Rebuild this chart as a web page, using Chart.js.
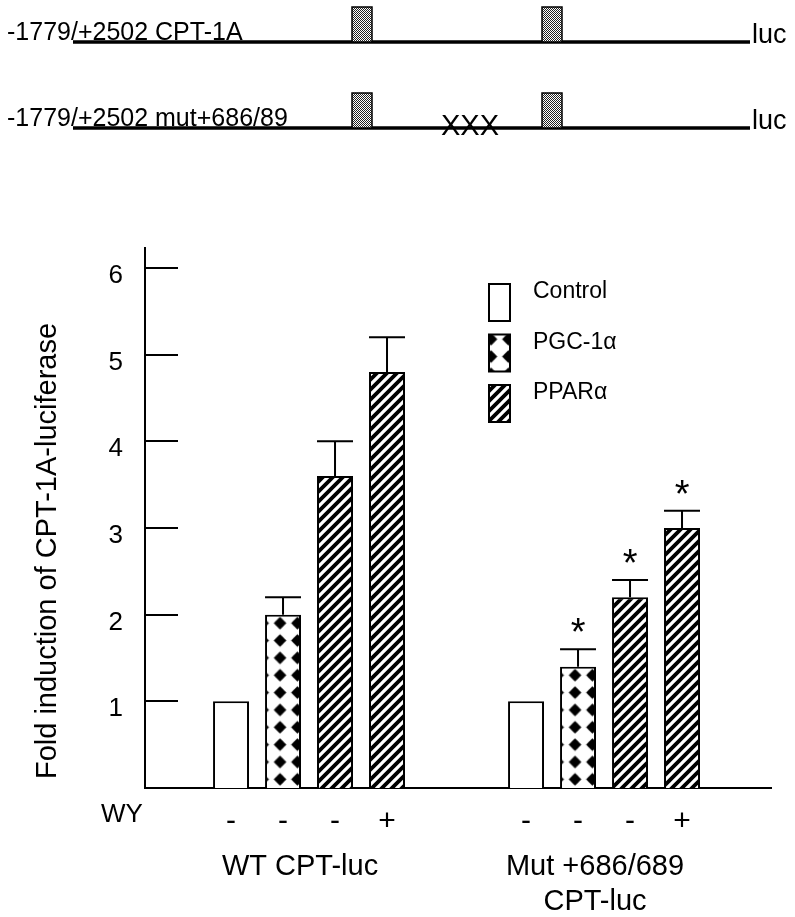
<!DOCTYPE html>
<html>
<head>
<meta charset="utf-8">
<script src="https://cdn.jsdelivr.net/npm/chart.js@4.4.1/dist/chart.umd.min.js"></script>
<style>
  html, body { margin: 0; padding: 0; background: #fff; }
  #wrap { position: relative; width: 795px; height: 917px; }
  canvas { position: absolute; left: 0; top: 0; }
</style>
</head>
<body>
<div id="wrap">
  <canvas id="chart" width="795" height="917"></canvas>
  <canvas id="construct" width="795" height="150"></canvas>
</div>
<script>
// groups on the x axis (multi-line labels)
const groups = [["WT CPT-luc"], ["Mut +686/689", "CPT-luc"]];
const seriesNames = ["Control", "PGC-1α", "PPARα", "PPARα + WY"];

// fold induction per group (WT, Mut)
const control = [1.0, 1.0];
const pgc = [2.0, 1.4];
const ppar = [3.6, 2.2];
const pparWy = [4.8, 3.0];

// upper error bars
const controlErr = [0, 0];
const pgcErr = [0.2, 0.2];
const pparErr = [0.4, 0.2];
const pparWyErr = [0.4, 0.2];

// significance stars
const controlSig = [false, false];
const pgcSig = [false, true];
const pparSig = [false, true];
const pparWySig = [false, true];

// WY treatment per series
const wySign = ["-", "-", "-", "+"];
const yTicks = [1, 2, 3, 4, 5, 6];
const yTitle = "Fold induction of CPT-1A-luciferase";

const FONT = '"Liberation Sans", Arial, Helvetica, sans-serif';
const ctx = document.getElementById("chart").getContext("2d");

function makePattern(w, h, draw) {
  const c = document.createElement("canvas");
  c.width = w;
  c.height = h;
  const g = c.getContext("2d");
  g.fillStyle = "#fff";
  g.fillRect(0, 0, w, h);
  draw(g);
  return ctx.createPattern(c, "repeat");
}

const TILE = 17;
const diamonds = makePattern(TILE, TILE, (g) => {
  g.fillStyle = "#000";
  g.beginPath();
  g.moveTo(8.5, 2.3);
  g.lineTo(14.7, 8.5);
  g.lineTo(8.5, 14.7);
  g.lineTo(2.3, 8.5);
  g.closePath();
  g.fill();
});

const hatch = makePattern(10, 10, (g) => {
  g.strokeStyle = "#000";
  g.lineWidth = 3.8;
  g.beginPath();
  g.moveTo(-1, 11); g.lineTo(11, -1);
  g.moveTo(-2, 2); g.lineTo(2, -2);
  g.moveTo(8, 12); g.lineTo(12, 8);
  g.stroke();
});

const values = [control, pgc, ppar, pparWy];
const errors = [controlErr, pgcErr, pparErr, pparWyErr];
const sigs = [controlSig, pgcSig, pparSig, pparWySig];
const fills = ["#fff", diamonds, hatch, hatch];

// diamond lattice lined up with the centres of the PGC-1α bars
function alignDiamonds(chart, x0, y0) {
  const bars = chart.getDatasetMeta(1).data;
  const gap = bars[1].x - bars[0].x;
  const s = gap / Math.round(gap / TILE) / TILE;
  diamonds.setTransform(new DOMMatrix().translate(x0 - 8.5 * s, y0).scale(s));
}

const extras = {
  id: "extras",
  beforeDatasetsDraw(chart) {
    const bars = chart.getDatasetMeta(1).data;
    alignDiamonds(chart, bars[0].x - 3, chart.chartArea.bottom);
  },
  afterDraw(chart) {
    const c = chart.ctx;
    const area = chart.chartArea;
    const y = chart.scales.y;
    const x = chart.scales.x;
    c.save();
    c.strokeStyle = "#000";
    c.fillStyle = "#000";
    c.lineWidth = 2;

    // tick marks pointing into the plot
    yTicks.forEach((v) => {
      const py = Math.round(y.getPixelForValue(v));
      c.beginPath();
      c.moveTo(area.left, py);
      c.lineTo(area.left + 33, py);
      c.stroke();
    });

    chart.data.datasets.forEach((ds, k) => {
      chart.getDatasetMeta(k).data.forEach((bar, i) => {
        let top = bar.y;
        const err = ds.errors[i];
        if (err > 0) {
          top = y.getPixelForValue(ds.data[i].y + err);
          c.beginPath();
          c.moveTo(bar.x, bar.y);
          c.lineTo(bar.x, top);
          c.moveTo(bar.x - bar.width / 2, top);
          c.lineTo(bar.x + bar.width / 2, top);
          c.stroke();
        }
        c.textAlign = "center";
        c.textBaseline = "alphabetic";
        if (ds.sig[i]) {
          c.font = "38px " + FONT;
          c.fillText("*", bar.x, top - 4);
        }
        c.font = "30px " + FONT;
        c.fillText(ds.wy, bar.x, x.top + 42);
      });
    });

    c.font = "26px " + FONT;
    c.textAlign = "center";
    c.fillText("WY", 122, x.top + 34);

    // legend (first three series)
    chart.data.datasets.slice(0, 3).forEach((ds, k) => {
      const bx = area.left + 344;
      const by = area.top + 36 + k * 50.5;
      if (ds.backgroundColor === diamonds) alignDiamonds(chart, bx + 2, by - 4);
      c.fillStyle = ds.backgroundColor;
      c.fillRect(bx, by, 21, 37);
      c.strokeRect(bx, by, 21, 37);
      c.fillStyle = "#000";
      c.font = "23px " + FONT;
      c.textAlign = "left";
      c.textBaseline = "middle";
      c.fillText(ds.label, bx + 44, by + 8);
    });

    // y axis title
    c.translate(48, 551);
    c.rotate(-Math.PI / 2);
    c.font = "29px " + FONT;
    c.textAlign = "center";
    c.textBaseline = "middle";
    c.fillText(yTitle, 0, 0);
    c.restore();
  }
};

new Chart(ctx, {
  type: "bar",
  data: {
    datasets: values.map((vals, k) => ({
      label: seriesNames[k],
      data: vals.map((v, i) => ({ x: i, y: v })),
      errors: errors[k],
      sig: sigs[k],
      wy: wySign[k],
      backgroundColor: fills[k],
      borderColor: "#000",
      borderWidth: 2,
      categoryPercentage: 0.705,
      barPercentage: 0.692
    }))
  },
  options: {
    responsive: false,
    animation: false,
    layout: { padding: { top: 248, right: 24, bottom: 0, left: 0 } },
    scales: {
      x: {
        type: "linear",
        min: -0.556,
        max: 1.566,
        offset: false,
        grid: { display: false, drawTicks: false },
        border: { display: true, color: "#000", width: 2 },
        afterBuildTicks: (s) => { s.ticks = groups.map((g, i) => ({ value: i })); },
        afterFit: (s) => { s.height = 129; },
        ticks: {
          callback: (v) => groups[v],
          color: "#000",
          font: { family: FONT, size: 29, lineHeight: 1.19 },
          padding: 62,
          labelOffset: -9,
          maxRotation: 0,
          autoSkip: false
        }
      },
      y: {
        min: 0,
        max: 6.23,
        grid: { display: false, drawTicks: false },
        border: { display: true, color: "#000", width: 2 },
        afterBuildTicks: (s) => { s.ticks = yTicks.map((v) => ({ value: v })); },
        afterFit: (s) => { s.width = 145; },
        ticks: {
          color: "#000",
          font: { family: FONT, size: 26 },
          padding: 22,
          labelOffset: 8
        }
      }
    },
    plugins: {
      legend: { display: false },
      tooltip: { enabled: false }
    }
  },
  plugins: [extras]
});

// promoter construct diagram above the chart
const dg = document.getElementById("construct").getContext("2d");
const stipple = (() => {
  const c = document.createElement("canvas");
  c.width = 2;
  c.height = 2;
  const g = c.getContext("2d");
  g.fillStyle = "#fff";
  g.fillRect(0, 0, 2, 2);
  g.fillStyle = "#222";
  g.fillRect(0, 0, 1, 1);
  g.fillRect(1, 1, 1, 1);
  return dg.createPattern(c, "repeat");
})();

const constructs = [
  { name: "-1779/+2502 CPT-1A", mutated: false },
  { name: "-1779/+2502 mut+686/89", mutated: true }
];

constructs.forEach((cs, k) => {
  const ly = 42 + k * 86;
  dg.strokeStyle = "#000";
  dg.fillStyle = "#000";
  dg.lineWidth = 3.5;
  dg.beginPath();
  dg.moveTo(73, ly);
  dg.lineTo(750, ly);
  dg.stroke();

  dg.font = "25px " + FONT;
  dg.textAlign = "left";
  dg.textBaseline = "alphabetic";
  dg.fillText(cs.name, 7, ly - 2);
  dg.font = "27px " + FONT;
  dg.fillText("luc", 752, ly + 1);

  dg.lineWidth = 1.5;
  [352, 542].forEach((sx) => {
    dg.fillStyle = stipple;
    dg.fillRect(sx, ly - 35, 20, 35);
    dg.strokeRect(sx, ly - 35, 20, 35);
  });

  if (cs.mutated) {
    dg.fillStyle = "#000";
    dg.font = "29px " + FONT;
    dg.textAlign = "center";
    dg.textBaseline = "middle";
    dg.fillText("XXX", 470, ly - 1);
  }
});
</script>
</body>
</html>
